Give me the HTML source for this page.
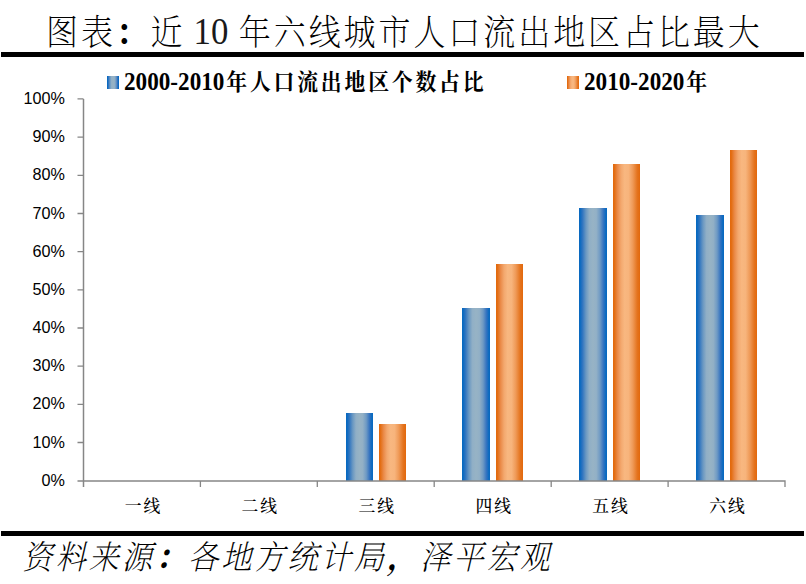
<!DOCTYPE html>
<html><head><meta charset="utf-8">
<style>
html,body{margin:0;padding:0;background:#fff;}
body{width:806px;height:584px;overflow:hidden;position:relative;}
svg{position:absolute;left:0;top:0;}
</style></head>
<body>
<svg width="806" height="584" viewBox="0 0 806 584">
<defs>
<linearGradient id="gb" x1="0" y1="0" x2="1" y2="0">
<stop offset="0" stop-color="#0868c0"/>
<stop offset="0.04" stop-color="#0a6ac0"/>
<stop offset="0.12" stop-color="#2e74c0"/>
<stop offset="0.25" stop-color="#6a98c2"/>
<stop offset="0.37" stop-color="#90afc6"/>
<stop offset="0.5" stop-color="#97b3c5"/>
<stop offset="0.62" stop-color="#92b0c6"/>
<stop offset="0.75" stop-color="#6f9ac4"/>
<stop offset="0.87" stop-color="#3674c0"/>
<stop offset="0.96" stop-color="#0a6ac0"/>
<stop offset="1" stop-color="#0868c0"/>
</linearGradient>
<linearGradient id="go" x1="0" y1="0" x2="1" y2="0">
<stop offset="0" stop-color="#e2680c"/>
<stop offset="0.05" stop-color="#e36d12"/>
<stop offset="0.17" stop-color="#ea8a48"/>
<stop offset="0.3" stop-color="#f3a86e"/>
<stop offset="0.43" stop-color="#f8b780"/>
<stop offset="0.58" stop-color="#f7b47c"/>
<stop offset="0.73" stop-color="#ef9a58"/>
<stop offset="0.9" stop-color="#e4731d"/>
<stop offset="1" stop-color="#e2680c"/>
</linearGradient>
</defs>
<rect x="0" y="0" width="806" height="584" fill="#fff"/>
<!-- title -->
<g font-family="Liberation Serif, Noto Serif CJK SC, serif" font-weight="200" font-size="34.8" fill="#000">
<text x="50.10 87.93 125.75 163.58" y="45" transform="scale(0.92,1)">图表<tspan font-weight="700">：</tspan>近</text>
<text x="193.6" y="44.3" font-size="34.8" fill="#1a1a1a" transform="translate(0,44.3) scale(1,1.065) translate(0,-44.3)">10</text>
<text x="259.56 297.52 335.49 373.46 411.43 449.39 487.36 525.33 563.30 601.26 639.23 677.20 715.17 753.13 791.10" y="45" transform="scale(0.92,1)">年六线城市人口流出地区占比最大</text>
</g>
<rect x="1" y="52" width="803" height="5" fill="#000"/>
<!-- legend -->
<rect x="107" y="76" width="12" height="13" fill="url(#gb)"/>
<g font-family="Liberation Serif, Noto Serif CJK SC, serif" font-weight="700" font-size="23.2" fill="#000">
<text x="124" y="90" transform="translate(0,90) scale(1,1.055) translate(0,-90)">2000-2010</text>
<text x="251.40 277.68 303.96 330.23 356.51 382.79 409.07 435.34 461.62 487.90 514.18" y="89.8" transform="scale(0.9,1)" font-weight="700">年人口流出地区个数占比</text>
<text x="584" y="90" transform="translate(0,90) scale(1,1.055) translate(0,-90)">2010-2020</text>
<text x="762.51" y="89.8" transform="scale(0.9,1)" font-weight="700">年</text>
</g>
<rect x="567" y="76" width="12" height="13" fill="url(#go)"/>

<!-- y labels -->
<g font-family="Liberation Sans, sans-serif" font-size="16.2" fill="#000" text-anchor="end">
<text x="65" y="104">100%</text>
<text x="65" y="142.2">90%</text>
<text x="65" y="180.4">80%</text>
<text x="65" y="218.5">70%</text>
<text x="65" y="256.7">60%</text>
<text x="65" y="294.9">50%</text>
<text x="65" y="333.1">40%</text>
<text x="65" y="371.2">30%</text>
<text x="65" y="409.4">20%</text>
<text x="65" y="447.6">10%</text>
<text x="65" y="485.8">0%</text>
</g>
<!-- bars -->
<rect x="346" y="413" width="27" height="68" fill="url(#gb)"/>
<rect x="379" y="424" width="27" height="57" fill="url(#go)"/>
<rect x="462" y="308" width="28" height="173" fill="url(#gb)"/>
<rect x="496" y="264" width="27" height="217" fill="url(#go)"/>
<rect x="579" y="208" width="28" height="273" fill="url(#gb)"/>
<rect x="613" y="164" width="27" height="317" fill="url(#go)"/>
<rect x="696" y="215" width="28" height="266" fill="url(#gb)"/>
<rect x="730" y="150" width="27" height="331" fill="url(#go)"/>
<!-- axes -->
<g stroke="#868686" stroke-width="1.3" fill="none">
<path d="M83.5 98.97V487" stroke-width="1.5"/>
<path d="M77.5 98.97H83.5M77.5 137.14H83.5M77.5 175.31H83.5M77.5 213.48H83.5M77.5 251.65H83.5M77.5 289.82H83.5M77.5 327.99H83.5M77.5 366.16H83.5M77.5 404.33H83.5M77.5 442.5H83.5M77.5 481H785V487"/>
<path d="M200.4 481V487M317.3 481V487M434.2 481V487M551.2 481V487M668.1 481V487"/>
</g>
<!-- category labels -->
<g font-family="Liberation Serif, Noto Serif CJK SC, serif" font-size="16.8" font-weight="500" fill="#000" text-anchor="middle">
<text x="133.05 151.85" y="512.4">一线</text>
<text x="249.95 268.75" y="512.4">二线</text>
<text x="366.85 385.65" y="512.4">三线</text>
<text x="483.80 502.60" y="512.4">四线</text>
<text x="600.70 619.50" y="512.4">五线</text>
<text x="717.60 736.40" y="512.4">六线</text>
</g>
<rect x="1" y="531" width="803" height="5" fill="#000"/>
<text x="24.27 60.30 96.33 132.36 168.40 204.43 240.46 276.49 312.53 348.56 384.59 420.62 456.66 492.69 528.72 564.75" transform="scale(0.92,1)" y="569.5" font-family="Liberation Serif, Noto Serif CJK SC, serif" font-style="italic" font-weight="200" font-size="33.1" fill="#000">资料来源<tspan font-weight="700">：</tspan>各地方统计局<tspan font-weight="700">，</tspan>泽平宏观</text>
</svg>
</body></html>
